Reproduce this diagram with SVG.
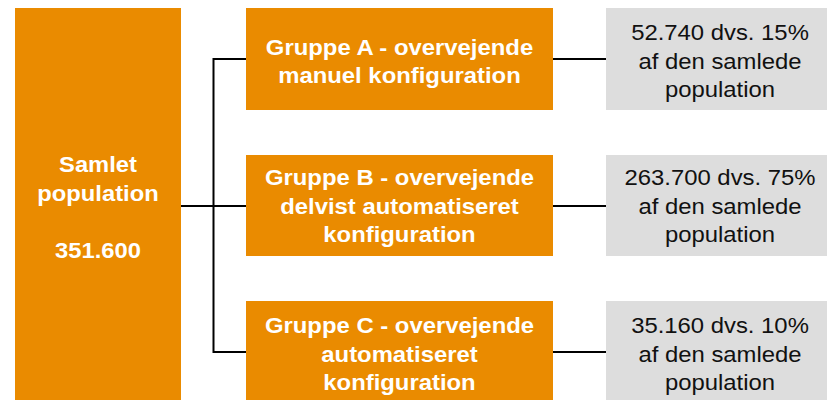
<svg xmlns="http://www.w3.org/2000/svg" width="827" height="400" viewBox="0 0 827 400">
  <style>
    .grp { fill: #EA8B00; }
    .res { fill: #DDDDDD; }
    .lbl { font-family: "Liberation Sans", Arial, sans-serif; font-size: 22px; font-weight: bold; fill: #FFFFFF; text-anchor: middle; }
    .val { font-family: "Liberation Sans", Arial, sans-serif; font-size: 22px; fill: #111111; text-anchor: middle; }
    .wire { fill: none; stroke: #000000; stroke-width: 2; }
  </style>

  <!-- connectors -->
  <g id="connectors">
    <path class="wire" d="M181 206 H246"/>
    <path class="wire" d="M246 59 H213.5 V352 H246"/>
    <path class="wire" d="M553 59 H606"/>
    <path class="wire" d="M553 206 H606"/>
    <path class="wire" d="M553 352 H606"/>
  </g>

  <!-- total population -->
  <g id="total">
    <rect class="grp" x="15" y="8" width="166" height="400"/>
    <g transform="translate(98 0) scale(1.08 1)">
      <text class="lbl" x="0" y="172">Samlet</text>
      <text class="lbl" x="0" y="201">population</text>
      <text class="lbl" x="0" y="258">351.600</text>
    </g>
  </g>

  <!-- group A -->
  <g id="groupA">
    <rect class="grp" x="246" y="8" width="307" height="102"/>
    <g transform="translate(399.5 0) scale(1.085 1)">
      <text class="lbl" x="0" y="55">Gruppe A - overvejende</text>
      <text class="lbl" x="0" y="83">manuel konfiguration</text>
    </g>
  </g>
  <g id="shareA">
    <rect class="res" x="606" y="8" width="230" height="102"/>
    <g transform="translate(720 0) scale(1.085 1)">
      <text class="val" x="0" y="40">52.740 dvs. 15%</text>
      <text class="val" x="0" y="69">af den samlede</text>
      <text class="val" x="0" y="97">population</text>
    </g>
  </g>

  <!-- group B -->
  <g id="groupB">
    <rect class="grp" x="246" y="155" width="307" height="101"/>
    <g transform="translate(399.5 0) scale(1.085 1)">
      <text class="lbl" x="0" y="185">Gruppe B - overvejende</text>
      <text class="lbl" x="0" y="214">delvist automatiseret</text>
      <text class="lbl" x="0" y="242">konfiguration</text>
    </g>
  </g>
  <g id="shareB">
    <rect class="res" x="606" y="155" width="230" height="101"/>
    <g transform="translate(720 0) scale(1.085 1)">
      <text class="val" x="0" y="185">263.700 dvs. 75%</text>
      <text class="val" x="0" y="214">af den samlede</text>
      <text class="val" x="0" y="242">population</text>
    </g>
  </g>

  <!-- group C -->
  <g id="groupC">
    <rect class="grp" x="246" y="301" width="307" height="110"/>
    <g transform="translate(399.5 0) scale(1.085 1)">
      <text class="lbl" x="0" y="333">Gruppe C - overvejende</text>
      <text class="lbl" x="0" y="362">automatiseret</text>
      <text class="lbl" x="0" y="390">konfiguration</text>
    </g>
  </g>
  <g id="shareC">
    <rect class="res" x="606" y="301" width="230" height="110"/>
    <g transform="translate(720 0) scale(1.085 1)">
      <text class="val" x="0" y="333">35.160 dvs. 10%</text>
      <text class="val" x="0" y="362">af den samlede</text>
      <text class="val" x="0" y="390">population</text>
    </g>
  </g>
</svg>
